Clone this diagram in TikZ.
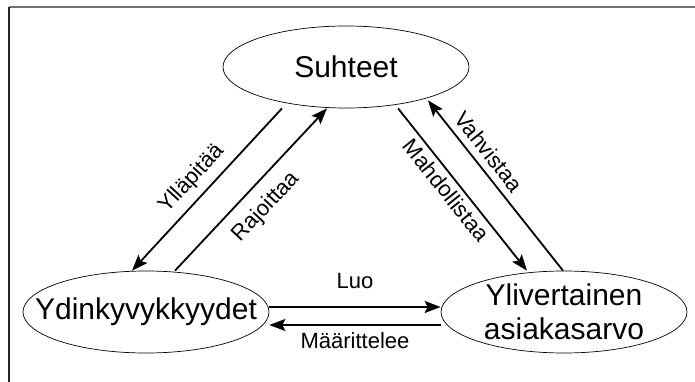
\documentclass[tikz,border=0pt]{standalone}
\usepackage{fontspec}
\setmainfont{Liberation Sans}
\usetikzlibrary{shapes.geometric,arrows.meta}
\begin{document}
\begin{tikzpicture}[x=1pt,y=-1pt,
  bubble/.style={ellipse,draw,line width=0.7pt,minimum width=246pt,minimum height=82pt,
    inner xsep=-60pt,inner ysep=-20pt,align=center,
    font=\fontsize{30}{34}\selectfont},
  flow/.style={line width=1.8pt,-{Stealth[length=16pt,width=12pt,inset=3pt]}},
  tag/.style={font=\fontsize{22}{26}\selectfont,inner sep=0pt}]
\useasboundingbox (0,0) rectangle (695,382);
% frame
\draw[black!55,line width=1.3pt] (9,7) -- (695,7);
\draw[black!85,line width=1.3pt] (9,7) -- (9,382);
% the three concepts
\node[bubble] (S) at (346,67) {Suhteet};
\node[bubble] (Y) at (146,312) {Ydinkyvykkyydet};
\node[bubble] (V) at (564,312) {Ylivertainen\\asiakasarvo};
% relations
\draw[flow] ([xshift=-64pt]S.south) -- ([xshift=-14pt]Y.north)
  node[tag,pos=.51,sloped,above=7pt] {Ylläpitää};
\draw[flow] ([xshift=29pt]Y.north) -- ([xshift=-19pt]S.south)
  node[tag,pos=.49,sloped,below=12pt] {Rajoittaa};
\draw[flow] ([xshift=52pt]S.south) -- ([xshift=-37pt]V.north)
  node[tag,pos=.455,sloped,below=4pt] {Mahdollistaa};
\draw[flow] ([xshift=-1pt]V.north) -- ([xshift=82pt,yshift=8pt]S.south)
  node[tag,pos=.64,sloped,above=7pt] {Vahvistaa};
\draw[flow] ([yshift=5pt]Y.east) -- ([yshift=5pt]V.west)
  node[tag,midway,above=17pt] {Luo};
\draw[flow] ([yshift=-13pt]V.west) -- ([yshift=-13pt]Y.east)
  node[tag,midway,below=7pt] {Määrittelee};
\end{tikzpicture}
\end{document}
